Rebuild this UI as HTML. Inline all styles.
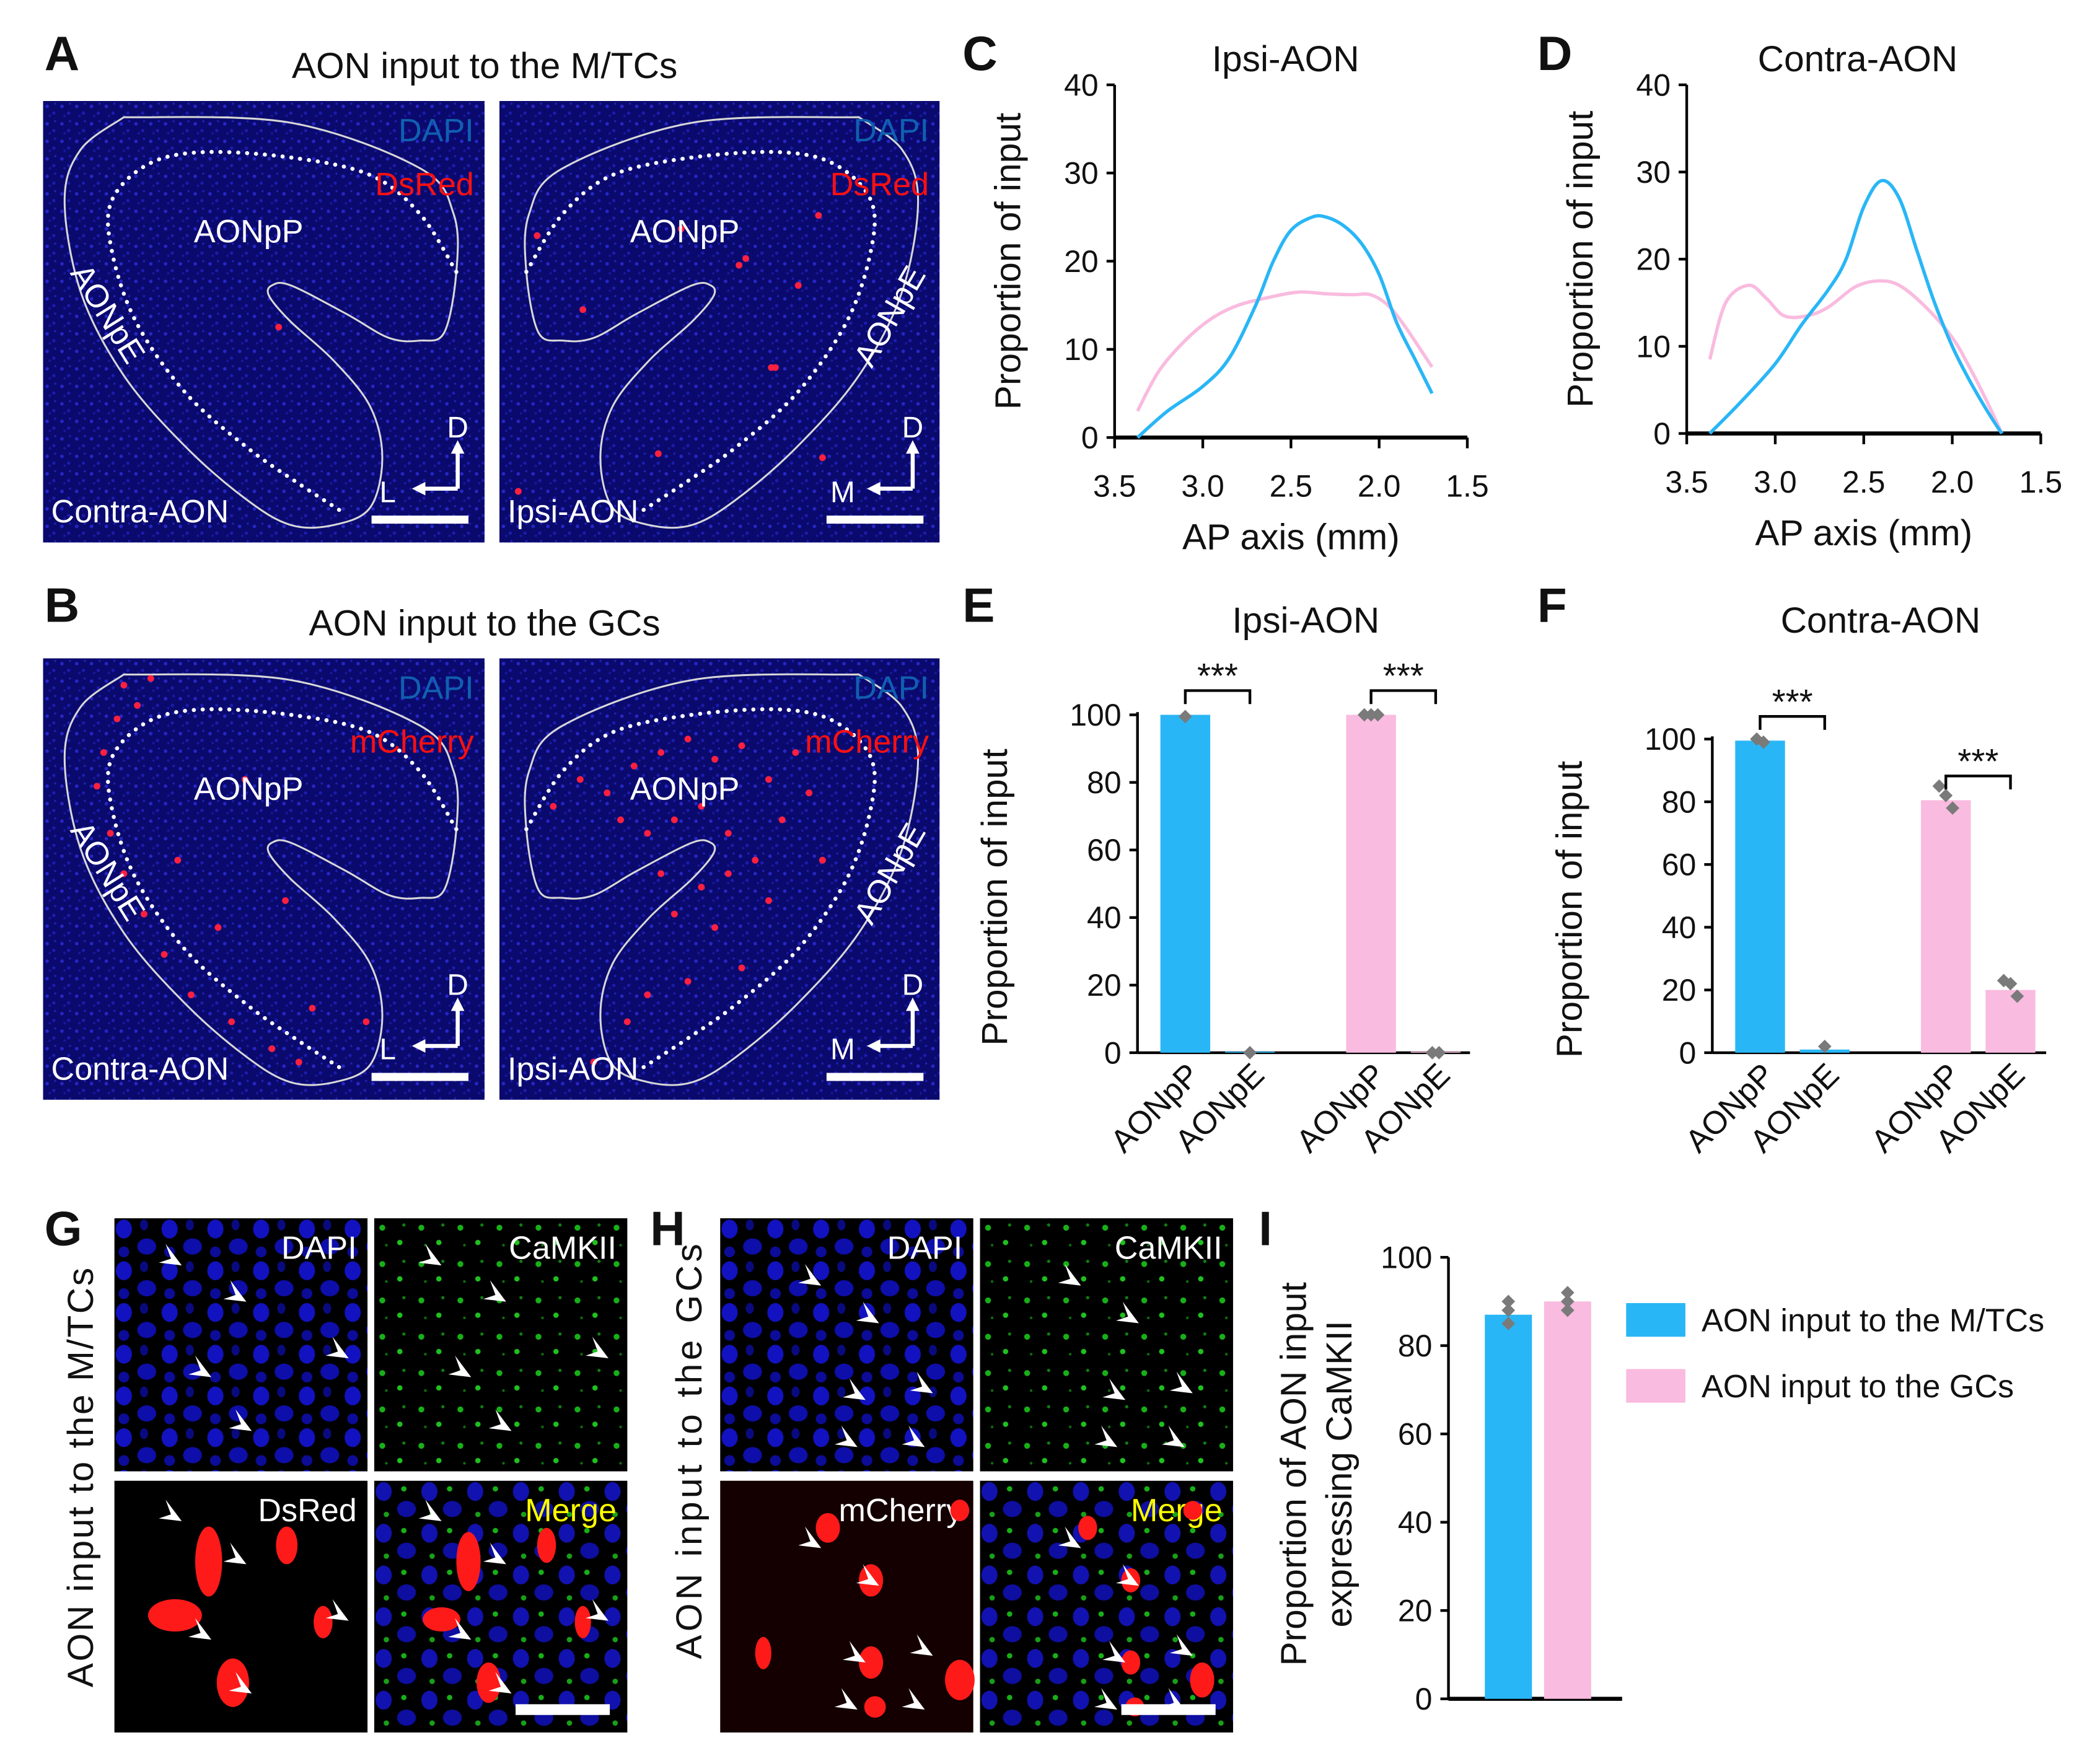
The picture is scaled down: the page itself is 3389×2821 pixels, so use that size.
<!DOCTYPE html>
<html><head><meta charset="utf-8"><style>
html,body{margin:0;padding:0;background:#fff;}
svg{display:block;font-family:"Liberation Sans",Arial,sans-serif;}
</style></head><body>
<svg id="fig" width="3389" height="2821" viewBox="0 0 1560 1298.5" xmlns="http://www.w3.org/2000/svg">
<defs>
<pattern id="dapi" width="11" height="13" patternUnits="userSpaceOnUse">
<rect width="11" height="13" fill="#0a0a6e"/>
<circle cx="3" cy="4" r="1.3" fill="#2626c8"/><circle cx="8" cy="9" r="1.2" fill="#1c1cb0"/><circle cx="5" cy="11" r="0.9" fill="#1818a0"/><circle cx="9" cy="2" r="0.8" fill="#2020b8"/>
</pattern>
<pattern id="nuc" width="34" height="31" patternUnits="userSpaceOnUse">
<rect width="34" height="31" fill="#000"/>
<ellipse cx="7" cy="8" rx="6" ry="7" fill="#1212c0"/><ellipse cx="24" cy="21" rx="7" ry="6" fill="#0e0eaa"/><ellipse cx="22" cy="5" rx="3" ry="4" fill="#0a0a80"/><ellipse cx="7" cy="25" rx="4" ry="4" fill="#0c0c98"/>
</pattern>
<pattern id="cam" width="29" height="27" patternUnits="userSpaceOnUse">
<rect width="29" height="27" fill="#000"/>
<circle cx="6" cy="7" r="2.2" fill="#18b018"/><circle cx="19" cy="18" r="2" fill="#20c020"/><circle cx="22" cy="5" r="1.2" fill="#108010"/><circle cx="9" cy="20" r="1" fill="#0c700c"/>
</pattern>
<pattern id="merge" width="34" height="31" patternUnits="userSpaceOnUse">
<rect width="34" height="31" fill="#000"/>
<ellipse cx="7" cy="8" rx="6" ry="7" fill="#1212b0"/><ellipse cx="24" cy="21" rx="7" ry="6" fill="#0e0ea0"/><circle cx="22" cy="6" r="2" fill="#18b018"/><circle cx="9" cy="25" r="2" fill="#18a018"/>
</pattern>
</defs>
<g id="root"></g>
</svg>
<script>
// ---------- data ----------
const apTicks = [3.5, 3.0, 2.5, 2.0, 1.5];
const cTicksY = [0, 10, 20, 30, 40];
const cIpsiBlueX = [3.37, 3.2, 3.0, 2.85, 2.7, 2.6, 2.5, 2.38, 2.3, 2.2, 2.1, 2.0, 1.9, 1.8, 1.7];
const cIpsiBlueY = [0, 3, 5.8, 9, 15, 20, 23.5, 25, 25, 24, 22, 18.5, 13, 9, 5];
const cIpsiPinkX = [3.37, 3.25, 3.1, 2.95, 2.8, 2.6, 2.45, 2.3, 2.15, 2.05, 1.95, 1.85, 1.7];
const cIpsiPinkY = [3, 7.5, 11, 13.5, 15, 16, 16.5, 16.3, 16.2, 16.2, 15, 12.5, 8];
const dContraBlueX = [3.37, 3.2, 3.0, 2.85, 2.7, 2.6, 2.5, 2.4, 2.3, 2.2, 2.1, 2.0, 1.9, 1.8, 1.72];
const dContraBlueY = [0, 3.5, 8, 12.5, 16.5, 20, 26, 29, 27, 21, 15, 10, 6, 2.5, 0];
const dContraPinkX = [3.37, 3.28, 3.15, 3.05, 2.95, 2.82, 2.7, 2.55, 2.42, 2.3, 2.15, 2.0, 1.9, 1.8, 1.72];
const dContraPinkY = [8.5, 15, 17, 15.5, 13.5, 13.5, 14.5, 16.8, 17.5, 17, 14.5, 11, 7.5, 3.5, 0];
const efTicksY = [0, 20, 40, 60, 80, 100];
const efCats = ["AONpP", "AONpE", "AONpP", "AONpE"];
const eValues = [100, 0.3, 100, 0.3];
const fValues = [99.5, 1, 80.5, 20];
const eDots = [[99.5],[0],[100,100,100],[0,0]];
const fDots = [[100,99],[2],[85,82,78],[23,22,18]];
const iTicksY = [0, 20, 40, 60, 80, 100];
const iValues = [87, 90];
const iDots = [[90,88,85],[92,90,88]];
const legendLabels = ["AON input to the M/TCs", "AON input to the GCs"];
const BLUE = "#29b6f6", PINK = "#f9bbdf";

const NS = "http://www.w3.org/2000/svg";
const root = document.getElementById("root");
function el(tag, attrs, parent, text){
  const e = document.createElementNS(NS, tag);
  for (const k in attrs) e.setAttribute(k, attrs[k]);
  if (text !== undefined) e.textContent = text;
  (parent || root).appendChild(e);
  return e;
}
function txt(x, y, s, size, opts, parent){
  const a = Object.assign({x:x, y:y, "font-size":size, fill:"#111"}, opts||{});
  return el("text", a, parent, s);
}
function smooth(pts, closed){
  let d = "M" + pts[0][0] + "," + pts[0][1];
  for (let i=0;i<pts.length-1;i++){
    const p0=pts[Math.max(0,i-1)], p1=pts[i], p2=pts[i+1], p3=pts[Math.min(pts.length-1,i+2)];
    const c1=[p1[0]+(p2[0]-p0[0])/6, p1[1]+(p2[1]-p0[1])/6];
    const c2=[p2[0]-(p3[0]-p1[0])/6, p2[1]-(p3[1]-p1[1])/6];
    d += " C"+c1[0].toFixed(1)+","+c1[1].toFixed(1)+" "+c2[0].toFixed(1)+","+c2[1].toFixed(1)+" "+p2[0]+","+p2[1];
  }
  return d + (closed ? " Z" : "");
}

// ---------- panel letters & titles ----------
const letters = [["A",33,52],["B",33,462],["C",715,52],["D",1142,52],["E",715,462],["F",1142,462],["G",33,925],["H",483,925],["I",935,925]];
for (const [L,x,y] of letters){
  const t = txt(x,y,L,36,{"font-weight":"bold"});
  
  
}
let t;
t = txt(360,58,"AON input to the M/TCs",27,{"text-anchor":"middle"});
 
t = txt(360,472,"AON input to the GCs",27,{"text-anchor":"middle"});
 

// ---------- tissue images A/B ----------
const outerPts = [[60,12],[183,16],[280,50],[305,84],[307,127],[298,172],[280,178],[257,176],[225,158],[184,137],[170,137],[168,145],[184,164],[216,193],[243,227],[252,265],[243,302],[216,315],[184,315],[151,296],[106,257],[60,204],[28,142],[16,74],[28,36],[60,12]];
const dotPts = [[307,127],[280,84],[243,55],[184,42],[119,38],[78,47],[51,74],[51,111],[69,164],[106,217],[151,257],[188,283],[225,307]];
let clipN = 0;
function tissue(x, y, w, h, name, labels, mirror, cells){
  const g = el("g", {transform:"translate("+x+","+y+")"});
  
  
  const cid = "clip"+(clipN++);
  const cp = el("clipPath",{id:cid},g);
  el("rect",{x:0,y:0,width:w,height:h},cp);
  const body = el("g",{"clip-path":"url(#"+cid+")"},g);
  el("rect",{x:0,y:0,width:w,height:h,fill:"url(#dapi)"},body);
  const inner = el("g",{transform: mirror ? "translate("+w+",0) scale(-1,1)" : ""},body);
  el("path",{d:smooth(outerPts,true),fill:"none",stroke:"#d8d8d8","stroke-width":1.4},inner);
  el("path",{d:smooth(dotPts,false),fill:"none",stroke:"#fff","stroke-width":3,"stroke-dasharray":"0.1 6.5","stroke-linecap":"round"},inner);
  for (const c of cells) el("circle",{cx:c[0],cy:c[1],r:2.5,fill:"#ff2040"},body);
  txt(w-8,30,"DAPI",24,{fill:"#1060b0","text-anchor":"end"},g);
  txt(w-8,70,labels[0],24,{fill:"#ff1010","text-anchor":"end"},g);
  txt(mirror? 97 : 112,105,"AONpP",24,{fill:"#fff"},g);
  txt(6,313,labels[1],24,{fill:"#fff"},g);
  el("rect",{x:w-84,y:h-20,width:72,height:6,fill:"#fff"},g);
  el("path",{d:"M"+(w-20)+","+(h-40)+" L"+(w-20)+","+(h-70)+" M"+(w-20)+","+(h-40)+" L"+(w-48)+","+(h-40),stroke:"#fff","stroke-width":3,fill:"none"},g);
  el("path",{d:"M"+(w-25)+","+(h-66)+" L"+(w-20)+","+(h-76)+" L"+(w-15)+","+(h-66)+"Z M"+(w-44)+","+(h-45)+" L"+(w-54)+","+(h-40)+" L"+(w-44)+","+(h-35)+"Z",fill:"#fff"},g);
  txt(w-20,h-78,"D",22,{fill:"#fff","text-anchor":"middle"},g);
  txt(w-72,h-30,mirror?"M":"L",22,{fill:"#fff","text-anchor":"middle"},g);
  const rot = mirror ? [290,160,-60] : [48,158,58];
  txt(0,8,"AONpE",24,{fill:"#fff",transform:"translate("+rot[0]+","+rot[1]+") rotate("+rot[2]+")","text-anchor":"middle"},g);
}
tissue(32,75,328,328,"image-a-contra",["DsRed","Contra-AON"],false,[[175,168]]);
tissue(371,75,327,328,"image-a-ipsi",["DsRed","Ipsi-AON"],true,[[28,100],[62,155],[135,95],[183,117],[237,85],[222,137],[240,265],[202,198],[118,262],[178,122],[205,198],[14,290]]);
const bCellsL=[[60,20],[70,35],[80,15],[55,45],[45,70],[40,95],[50,130],[60,160],[75,190],[90,220],[110,250],[140,270],[170,290],[190,300],[150,90],[180,180],[130,200],[100,150],[200,260],[240,270]];
const bCellsR=[[40,110],[60,90],[80,100],[100,80],[120,70],[140,60],[160,75],[180,65],[200,90],[220,70],[110,130],[130,120],[150,110],[170,130],[190,150],[210,120],[230,100],[150,170],[130,190],[160,200],[180,230],[140,240],[110,250],[95,270],[70,300],[200,180],[170,160],[120,160],[90,120],[240,150]];
tissue(32,489,328,328,"image-b-contra",["mCherry","Contra-AON"],false,bCellsL);
tissue(371,489,327,328,"image-b-ipsi",["mCherry","Ipsi-AON"],true,bCellsR);

// ---------- line charts C / D ----------
function lineChart(name, x0, x1, yBase, yTop, title, titleX, blueX, blueY, pinkX, pinkY){
  const g = el("g",{});
  
  
  const xs = v => x0 + (3.5 - v) / 2.0 * (x1 - x0);
  const ys = v => yBase - v / 40 * (yBase - yTop);
  txt(titleX, 53, title, 27, {"text-anchor":"middle"}, g);
  el("line",{x1:x0,y1:yTop,x2:x0,y2:yBase,stroke:"#000","stroke-width":2},g);
  el("line",{x1:x0,y1:yBase,x2:x1,y2:yBase,stroke:"#000","stroke-width":3},g);
  for (const v of cTicksY){
    el("line",{x1:x0-6,y1:ys(v),x2:x0,y2:ys(v),stroke:"#000","stroke-width":2},g);
    txt(x0-12, ys(v)+8, String(v), 23, {"text-anchor":"end"}, g);
  }
  for (const v of apTicks){
    el("line",{x1:xs(v),y1:yBase,x2:xs(v),y2:yBase+8,stroke:"#000","stroke-width":2},g);
    txt(xs(v), yBase+44, v.toFixed(1), 23, {"text-anchor":"middle"}, g);
  }
  txt((x0+x1)/2, yBase+83, "AP axis (mm)", 27, {"text-anchor":"middle"}, g);
  txt(0,0,"Proportion of input",27,{"text-anchor":"middle",transform:"translate("+(x0-70)+","+((yTop+yBase)/2)+") rotate(-90)"},g);
  const pp = el("path",{d:smooth(pinkX.map((v,i)=>[xs(v),ys(pinkY[i])])),fill:"none",stroke:PINK,"stroke-width":2.5},g);
  
  
  const bp = el("path",{d:smooth(blueX.map((v,i)=>[xs(v),ys(blueY[i])])),fill:"none",stroke:BLUE,"stroke-width":2.5},g);
  
  
}
lineChart("chart-c-ipsi", 828, 1090, 325, 63, "Ipsi-AON", 955, cIpsiBlueX, cIpsiBlueY, cIpsiPinkX, cIpsiPinkY);
lineChart("chart-d-contra", 1253, 1516, 322, 63, "Contra-AON", 1380, dContraBlueX, dContraBlueY, dContraPinkX, dContraPinkY);

// ---------- bar charts E / F ----------
function diamond(g,cx,cy){ el("path",{d:"M"+cx+","+(cy-5)+" L"+(cx+5)+","+cy+" L"+cx+","+(cy+5)+" L"+(cx-5)+","+cy+"Z",fill:"#7a7a7a"},g); }
function barChart(name, x0, xEnd, yBase, yTop, title, titleX, values, dots, starPairs){
  const g = el("g",{});
  
  
  const ys = v => yBase - v/100*(yBase-yTop);
  txt(titleX, 470, title, 27, {"text-anchor":"middle"}, g);
  el("line",{x1:x0,y1:yTop-2,x2:x0,y2:yBase,stroke:"#000","stroke-width":2},g);
  el("line",{x1:x0,y1:yBase,x2:xEnd,y2:yBase,stroke:"#000","stroke-width":2},g);
  for (const v of efTicksY){
    el("line",{x1:x0-6,y1:ys(v),x2:x0,y2:ys(v),stroke:"#000","stroke-width":2},g);
    txt(x0-12, ys(v)+8, String(v), 23, {"text-anchor":"end"}, g);
  }
  txt(0,0,"Proportion of input",27,{"text-anchor":"middle",transform:"translate("+(x0-97)+","+((yTop+yBase)/2+10)+") rotate(-90)"},g);
  const offs = [17, 65, 155, 203], bw = 37;
  values.forEach((v,i)=>{
    const bx = x0+offs[i];
    const r = el("rect",{x:bx,y:ys(v),width:bw,height:yBase-ys(v),fill: i<2?BLUE:PINK},g);
    
    
    dots[i].forEach((d,j)=>diamond(g,bx+bw/2+(j-(dots[i].length-1)/2)*5,ys(d)));
    txt(0,0,efCats[i],24,{"text-anchor":"end",transform:"translate("+(bx+bw/2+12)+","+(yBase+18)+") rotate(-45)"},g);
  });
  for (const [a,b] of starPairs){
    const y1 = Math.min(ys(values[a]),ys(values[b]))-18;
    const ax = x0+offs[a]+bw/2, bx2 = x0+offs[b]+bw/2;
    el("path",{d:"M"+ax+","+(y1+10)+" L"+ax+","+y1+" L"+bx2+","+y1+" L"+bx2+","+(y1+10),stroke:"#000","stroke-width":2,fill:"none"},g);
    txt((ax+bx2)/2, y1-2, "***", 26, {"text-anchor":"middle"}, g);
  }
}
barChart("chart-e-ipsi", 845, 1092, 782, 531, "Ipsi-AON", 970, eValues, eDots, [[0,1],[2,3]]);
barChart("chart-f-contra", 1272, 1520, 782, 549, "Contra-AON", 1397, fValues, fDots, [[0,1],[2,3]]);

// ---------- G / H microscopy ----------
function micro(x,y,w,h,name,fill,label,labelColor){
  const g = el("g",{transform:"translate("+x+","+y+")"});
  
  
  el("rect",{x:0,y:0,width:w,height:h,fill:fill},g);
  txt(w-8,30,label,24,{fill:labelColor,"text-anchor":"end"},g);
  return g;
}
function redCells(g, pts){ for (const p of pts) el("ellipse",{cx:p[0],cy:p[1],rx:p[2],ry:p[3],fill:"#ff1a1a"},g); }
function arrows(g, pts){ for (const p of pts) el("path",{d:"M"+p[0]+","+p[1]+" l-12,-16 l4,11 l-9,3 z",fill:"#fff"},g); }
const gArr=[[50,35],[98,62],[72,118],[174,104],[102,158]];
let gg;
gg=micro(85,905,188,188,"image-g-dapi","url(#nuc)","DAPI","#fff"); arrows(gg,gArr);
gg=micro(278,905,188,188,"image-g-camkii","url(#cam)","CaMKII","#fff"); arrows(gg,gArr);
gg=micro(85,1100,188,187,"image-g-dsred","#000","DsRed","#fff"); redCells(gg,[[70,60,10,26],[45,100,20,12],[128,48,8,14],[88,150,12,18],[155,105,7,12]]); arrows(gg,[[50,30],[98,62],[72,118],[174,104],[102,158]]);
gg=micro(278,1100,188,187,"image-g-merge","url(#merge)","Merge","#ffff00"); redCells(gg,[[70,60,9,22],[50,103,14,9],[128,48,7,13],[85,150,9,15],[155,105,6,12]]); arrows(gg,[[50,30],[98,62],[72,118],[174,104],[102,158]]);
const hArr=[[75,50],[118,78],[108,135],[158,130],[102,170],[152,170]];
gg=micro(535,905,188,188,"image-h-dapi","url(#nuc)","DAPI","#fff"); arrows(gg,hArr);
gg=micro(728,905,188,188,"image-h-camkii","url(#cam)","CaMKII","#fff"); arrows(gg,hArr);
gg=micro(535,1100,188,187,"image-h-mcherry","#140000","mCherry","#fff"); redCells(gg,[[80,35,9,11],[112,74,9,12],[32,128,6,12],[112,135,9,12],[178,148,11,15],[115,168,8,8],[178,22,7,8]]); arrows(gg,hArr);
gg=micro(728,1100,188,187,"image-h-merge","url(#merge)","Merge","#ffff00"); redCells(gg,[[80,35,7,9],[112,74,7,9],[112,135,7,9],[165,148,9,13],[115,168,7,7],[158,22,7,7]]); arrows(gg,hArr);
el("rect",{x:383,y:1266,width:70,height:8,fill:"#fff"});
el("rect",{x:833,y:1266,width:70,height:8,fill:"#fff"});
t = txt(0,0,"AON input to the M/TCs",27,{"text-anchor":"middle","letter-spacing":"1.2",transform:"translate(69,1097) rotate(-90)"});
 
t = txt(0,0,"AON input to the GCs",27,{"text-anchor":"middle","letter-spacing":"2.5",transform:"translate(521,1077) rotate(-90)"});
 

// ---------- I bar chart ----------
(function(){
  const g = el("g",{});
  
  
  const x0 = 1076, yBase = 1262, yTop = 934;
  const ys = v => yBase - v/100*(yBase-yTop);
  el("line",{x1:x0,y1:yTop,x2:x0,y2:yBase,stroke:"#000","stroke-width":2},g);
  el("line",{x1:x0,y1:yBase,x2:1205,y2:yBase,stroke:"#000","stroke-width":3},g);
  for (const v of iTicksY){
    el("line",{x1:x0-6,y1:ys(v),x2:x0,y2:ys(v),stroke:"#000","stroke-width":2},g);
    txt(x0-12, ys(v)+8, String(v), 23, {"text-anchor":"end"}, g);
  }
  txt(0,0,"Proportion of AON input",27,{"text-anchor":"middle",transform:"translate(970,1095) rotate(-90)"},g);
  txt(0,0,"expressing CaMKII",27,{"text-anchor":"middle",transform:"translate(1004,1095) rotate(-90)"},g);
  const offs=[27,71], bw=35;
  iValues.forEach((v,i)=>{
    const bx = x0+offs[i];
    const r = el("rect",{x:bx,y:ys(v),width:bw,height:yBase-ys(v),fill:i?PINK:BLUE},g);
    
    
    iDots[i].forEach(d=>diamond(g,bx+bw/2,ys(d)));
  });
  legendLabels.forEach((s,i)=>{
    const ly = 968 + i*49;
    const r = el("rect",{x:1208,y:ly,width:44,height:25,fill:i?PINK:BLUE},g);
    
    
    const tt = txt(1264, ly+21, s, 24, {}, g);
    
    
  });
})();
</script>
</body></html>
